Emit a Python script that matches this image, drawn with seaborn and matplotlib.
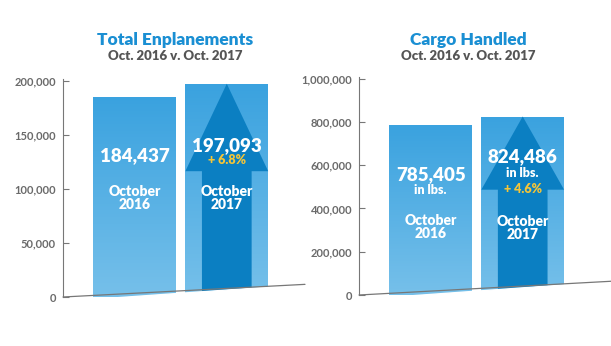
import numpy as np
import matplotlib
matplotlib.use("Agg")
import matplotlib.pyplot as plt
import seaborn as sns
from matplotlib.patches import Polygon
from matplotlib.colors import LinearSegmentedColormap

# ---- data ----
periods = ["October\n2016", "October\n2017"]
enplanements = [184437, 197093]
enpl_change = "+ 6.8%"
cargo_lbs = [785405, 824486]
cargo_change = "+ 4.6%"
enpl_ticks = [0, 50000, 100000, 150000, 200000]
cargo_ticks = [0, 200000, 400000, 600000, 800000, 1000000]

sns.set_theme(style="white")
plt.rcParams["font.family"] = ["Lato", "DejaVu Sans"]

TITLE_C = "#1a8fd3"
SUB_C = "#555555"
TICK_C = "#6a6a6a"
YEL = "#f5c537"
bar_cmap = LinearSegmentedColormap.from_list("b", ["#76c0ea", "#3aa2df"])

fig = plt.figure(figsize=(6.11, 3.46), dpi=100)
ax1 = fig.add_axes([63/611, 49/346, 242/611, 218/346])
ax2 = fig.add_axes([359/611, 51/346, 252/611, 218/346])


def grad_fill(ax, patch, cmap, z):
    x0, y0 = patch.get_x(), patch.get_y()
    w, h = patch.get_width(), patch.get_height()
    grad = np.linspace(0, 1, 256).reshape(-1, 1)
    im = ax.imshow(grad, cmap=cmap, aspect="auto", origin="lower",
                   extent=[x0, x0 + w, y0, y0 + h], zorder=z)
    im.set_clip_path(patch)
    patch.set_alpha(0)


def panel(ax, vals, ticks, ymax, xmax, slope):
    sns.barplot(x=periods, y=vals, ax=ax, width=0.9, color="#3aa2df",
                edgecolor="none", saturation=1)
    ax.set_xlim(-0.78, xmax)
    ax.set_ylim(0, ymax)
    ax.set_yticks(ticks)
    ax.set_yticklabels([f"{t:,}" for t in ticks], color=TICK_C,
                       fontsize=8, fontweight="bold")
    ax.tick_params(axis="y", direction="in", length=4, width=0.8,
                   color="#777777", pad=5, left=True)
    ax.set_xticks([])
    ax.set_xlabel("")
    ax.set_ylabel("")
    for s in ["top", "right", "bottom"]:
        ax.spines[s].set_visible(False)
    ax.spines["left"].set_color("#777777")
    ax.spines["left"].set_linewidth(0.8)
    ax.set_facecolor("none")
    patches = list(ax.patches)
    for p in patches:
        grad_fill(ax, p, bar_cmap, 1)
    # arrow in second bar
    p = patches[1]
    x0, w, h = p.get_x(), p.get_width(), p.get_height()
    base = 0.59 * h
    arrow = Polygon([(x0 + 0.2 * w, 0), (x0 + 0.8 * w, 0), (x0 + 0.8 * w, base),
                     (x0 + w, base), (x0 + w / 2, h), (x0, base),
                     (x0 + 0.2 * w, base)], closed=True, facecolor="#0b7fc2",
                    edgecolor="none", zorder=2)
    ax.add_patch(arrow)
    # slanted floor
    ax.fill([0, 1, 1], [-0.02, -0.02, slope], transform=ax.transAxes,
            color="white", zorder=3, clip_on=False)
    ax.plot([0, 1], [0, slope], transform=ax.transAxes, color="#777777",
            lw=0.9, zorder=4, clip_on=False)
    return patches


p1 = panel(ax1, enplanements, enpl_ticks, 201500, 1.85, 0.058)
p2 = panel(ax2, cargo_lbs, cargo_ticks, 1007000, 1.96, 0.063)

W = "white"
big = dict(color=W, fontsize=13.5, fontweight="heavy", ha="center", va="center", zorder=5)
mid = dict(color=W, fontsize=10, fontweight="heavy", ha="center", va="center",
           zorder=5, linespacing=1.0)
small = dict(color=W, fontsize=9, fontweight="heavy", ha="center", va="center", zorder=5)
yel = dict(color=YEL, fontsize=9, fontweight="heavy", ha="center", va="center", zorder=5)

# left panel texts
ax1.text(0, 130800, f"{enplanements[0]:,}", **big)
ax1.text(0, 91500, periods[0], **mid)
ax1.text(1, 139500, f"{enplanements[1]:,}", **big)
ax1.text(1, 127000, enpl_change, **yel)
ax1.text(1, 91500, periods[1], **mid)

# right panel texts
ax2.text(0, 555000, f"{cargo_lbs[0]:,}", **big)
ax2.text(0, 486000, "in lbs.", **small)
ax2.text(0, 312000, periods[0], **mid)
ax2.text(1, 638000, f"{cargo_lbs[1]:,}", **big)
ax2.text(1, 563000, "in lbs.", **small)
ax2.text(1, 490000, cargo_change, **yel)
ax2.text(1, 308000, periods[1], **mid)

# titles
fig.text(175/611, 1 - 40/346, "Total Enplanements", color=TITLE_C, fontsize=12.5,
         fontweight="heavy", ha="center", va="center")
fig.text(175/611, 1 - 56.5/346, "Oct. 2016 v. Oct. 2017", color=SUB_C, fontsize=9.5,
         fontweight="heavy", ha="center", va="center")
fig.text(468/611, 1 - 40/346, "Cargo Handled", color=TITLE_C, fontsize=12.5,
         fontweight="heavy", ha="center", va="center")
fig.text(468/611, 1 - 56.5/346, "Oct. 2016 v. Oct. 2017", color=SUB_C, fontsize=9.5,
         fontweight="heavy", ha="center", va="center")

fig.savefig("out.png", dpi=100, facecolor="white")
